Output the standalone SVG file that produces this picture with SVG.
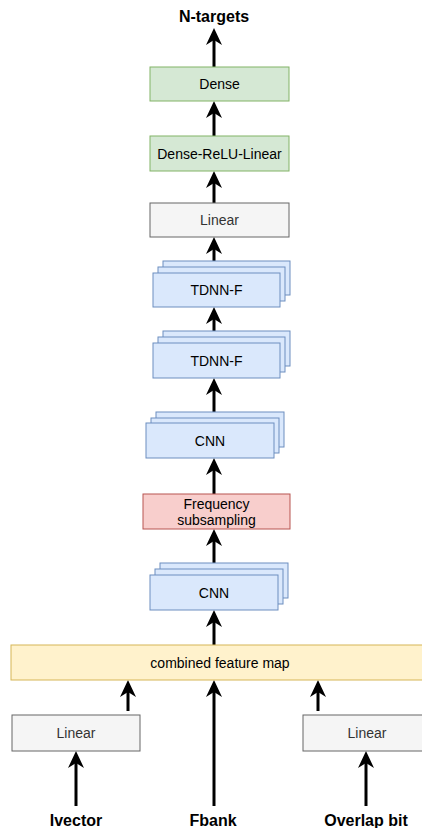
<svg xmlns="http://www.w3.org/2000/svg" width="422" height="828" viewBox="0 0 422 828">
<style>
.t{font-family:"Liberation Sans",Arial,sans-serif;font-size:14px;text-anchor:middle;fill:#000}
.tg{fill:#333333}
.lb{font-family:"Liberation Sans",Arial,sans-serif;font-size:16px;font-weight:bold;text-anchor:middle;fill:#000}
.g{fill:#d5e8d4;stroke:#82b366;stroke-width:1}
.gr{fill:#f5f5f5;stroke:#666666;stroke-width:1}
.b{fill:#dae8fc;stroke:#6c8ebf;stroke-width:1}
.r{fill:#f8cecc;stroke:#b85450;stroke-width:1}
.y{fill:#fff2cc;stroke:#d6b656;stroke-width:1}
.c{stroke:#000;stroke-width:3;fill:none;marker-end:url(#ah)}
</style>
<defs>
<marker id="ah" markerUnits="userSpaceOnUse" markerWidth="18" markerHeight="16" viewBox="0 0 18 16" refX="5" refY="8" orient="auto">
<path d="M0,0 L17,8 L0,16 L5,8 Z" fill="#000"/>
</marker>
</defs>
<g id="connectors">
<line class="c" x1="214" y1="67" x2="214" y2="40"/>
<line class="c" x1="214" y1="136" x2="214" y2="113"/>
<line class="c" x1="214" y1="203" x2="214" y2="183"/>
<line class="c" x1="214" y1="273" x2="214" y2="249"/>
<line class="c" x1="214" y1="343" x2="214" y2="319"/>
<line class="c" x1="214" y1="423" x2="214" y2="390"/>
<line class="c" x1="214" y1="494" x2="214" y2="470"/>
<line class="c" x1="214" y1="575" x2="214" y2="541"/>
<line class="c" x1="214" y1="645" x2="214" y2="622"/>
<line class="c" x1="214" y1="806" x2="214" y2="692"/>
<line class="c" x1="128" y1="711" x2="128" y2="692"/>
<line class="c" x1="318" y1="711" x2="318" y2="692"/>
<line class="c" x1="76" y1="806" x2="76" y2="763"/>
<line class="c" x1="366" y1="806" x2="366" y2="763"/>
</g>
<g id="n-targets"><text class="lb" x="214" y="22">N-targets</text></g>
<g id="dense"><rect class="g" x="150" y="67" width="139" height="34"/><text class="t" x="219.5" y="89">Dense</text></g>
<g id="dense-relu-linear"><rect class="g" x="150" y="136" width="139" height="35"/><text class="t" x="219.5" y="158.5">Dense-ReLU-Linear</text></g>
<g id="linear-top"><rect class="gr" x="150" y="203" width="139" height="34"/><text class="t tg" x="219.5" y="225">Linear</text></g>
<g id="tdnnf-1">
<rect class="b" x="163" y="261" width="127" height="34"/>
<rect class="b" x="158" y="267" width="127" height="34"/>
<rect class="b" x="153" y="273" width="127" height="34"/>
<text class="t" x="216.5" y="295">TDNN-F</text></g>
<g id="tdnnf-2">
<rect class="b" x="163" y="331" width="127" height="35"/>
<rect class="b" x="158" y="337" width="127" height="35"/>
<rect class="b" x="153" y="343" width="127" height="35"/>
<text class="t" x="216.5" y="365.5">TDNN-F</text></g>
<g id="cnn-1">
<rect class="b" x="156" y="412" width="128" height="35"/>
<rect class="b" x="151" y="418" width="128" height="35"/>
<rect class="b" x="146" y="423" width="128" height="35"/>
<text class="t" x="210" y="445.5">CNN</text></g>
<g id="freq-sub"><rect class="r" x="143" y="494" width="147" height="35"/>
<text class="t" x="216.5" y="508.5">Frequency</text><text class="t" x="216.5" y="524.5">subsampling</text></g>
<g id="cnn-2">
<rect class="b" x="160" y="563" width="128" height="35"/>
<rect class="b" x="155" y="569" width="128" height="35"/>
<rect class="b" x="150" y="575" width="128" height="35"/>
<text class="t" x="214" y="597.5">CNN</text></g>
<g id="combined"><rect class="y" x="11" y="645" width="420" height="35"/><text class="t" x="220" y="667.5">combined feature map</text></g>
<g id="linear-left"><rect class="gr" x="12" y="715" width="128" height="36"/><text class="t tg" x="76" y="738">Linear</text></g>
<g id="linear-right"><rect class="gr" x="303" y="715" width="128" height="36"/><text class="t tg" x="367" y="738">Linear</text></g>
<g id="ivector"><text class="lb" x="76" y="826">Ivector</text></g>
<g id="fbank"><text class="lb" x="213" y="826">Fbank</text></g>
<g id="overlap"><text class="lb" x="366" y="826">Overlap bit</text></g>
</svg>
